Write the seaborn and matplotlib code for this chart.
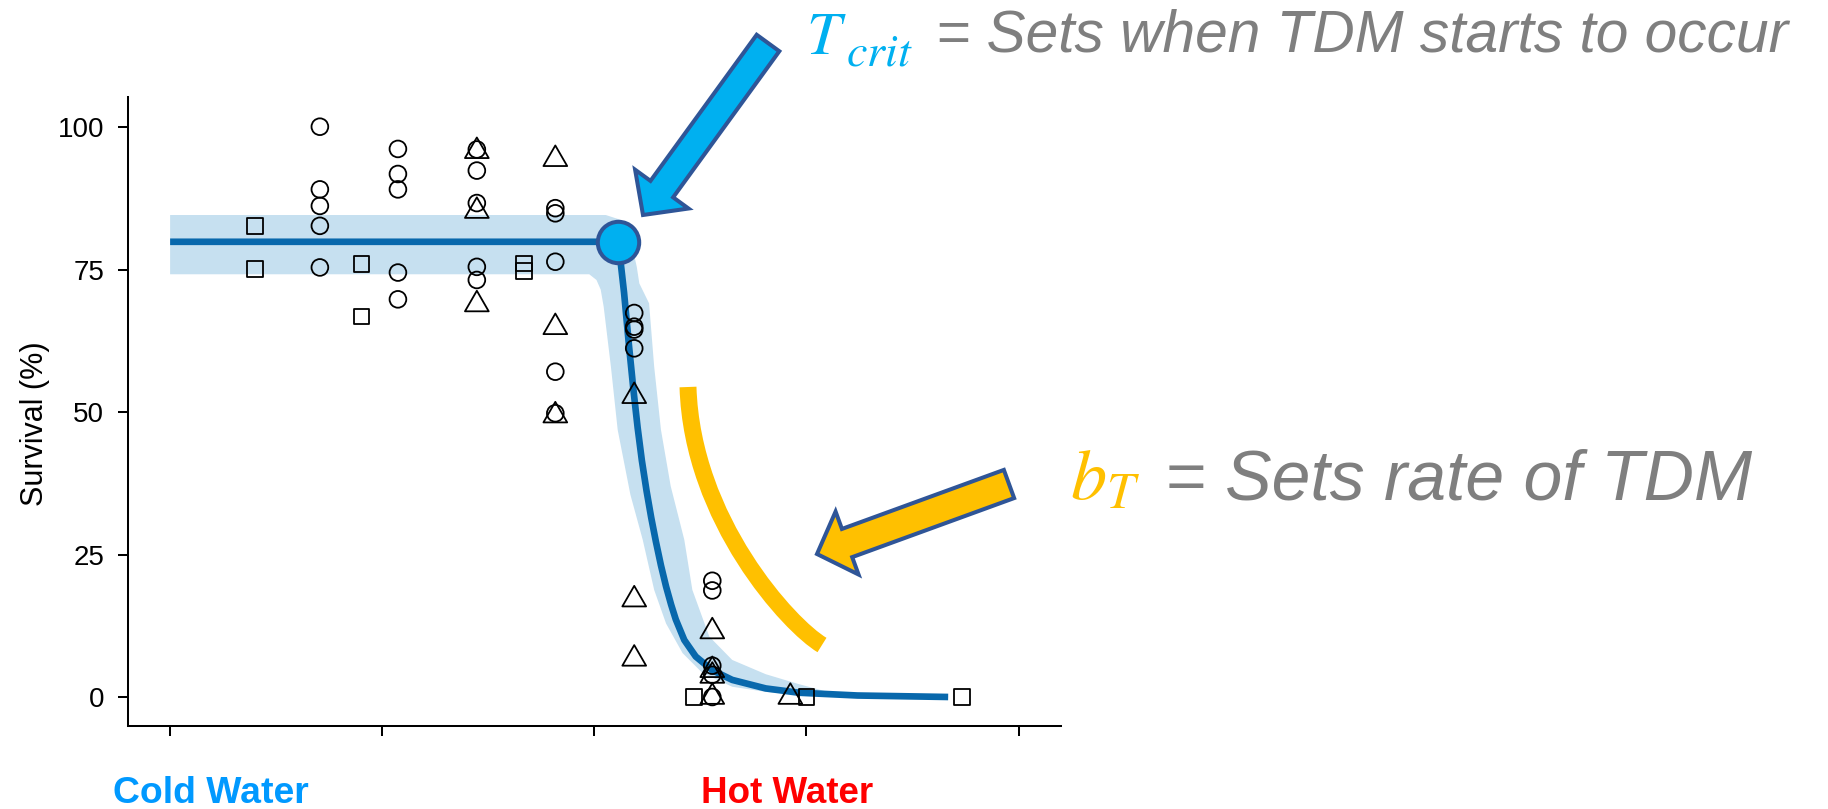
import numpy as np
import pandas as pd
import matplotlib
matplotlib.use("Agg")
import matplotlib.pyplot as plt
import seaborn as sns
from matplotlib.path import Path
from matplotlib.patches import Polygon, PathPatch

# ---------------- data ----------------
circle_temp = [13.53, 13.53, 13.53, 13.53, 13.53,
               15.37, 15.37, 15.37, 15.37, 15.37,
               17.23, 17.23, 17.23, 17.23, 17.23,
               19.08, 19.08, 19.08, 19.08, 19.08,
               20.94, 20.94, 20.94, 20.94,
               22.78, 22.78, 22.78, 22.78, 22.78]
circle_surv = [100.1, 89.1, 86.2, 82.7, 75.4,
               96.2, 91.8, 89.1, 74.5, 69.8,
               96.1, 92.4, 86.7, 75.5, 73.2,
               85.8, 84.9, 76.4, 57.1, 49.8,
               67.4, 65.0, 64.5, 61.2,
               20.4, 18.7, 5.5, 3.9, 0.0]

square_temp = [12.0, 12.0, 14.51, 14.51, 18.34, 18.34, 22.34, 25.0, 28.66]
square_surv = [82.6, 75.1, 76.0, 66.8, 76.1, 74.8, 0.0, 0.0, 0.0]

triangle_temp = [17.23, 17.23, 17.23, 19.08, 19.08, 19.08,
                 20.94, 20.94, 20.94, 22.78, 22.78, 22.78, 22.78, 24.62]
triangle_surv = [95.8, 85.3, 68.9, 94.4, 64.9, 49.4,
                 52.8, 17.1, 6.7, 11.5, 4.7, 3.7, 0.0, 0.0]

curve_temp = [10.0, 20.55, 20.6, 20.7, 20.82, 20.92, 21.02, 21.12, 21.23,
              21.34, 21.45, 21.57, 21.69, 21.81, 21.92, 22.12, 22.39, 22.78,
              23.25, 24.04, 24.82, 26.2, 28.34]
curve_surv = [79.9, 79.9, 77.6, 71.0, 61.4, 54.0, 47.3, 41.5, 36.2,
              31.5, 27.3, 23.1, 19.4, 16.2, 13.6, 10.0, 7.1, 4.7,
              3.0, 1.5, 0.75, 0.26, 0.0]

band_upper_temp = [10.0, 20.27, 20.6, 20.85, 21.0, 21.06, 21.29, 21.41, 21.57,
                   21.8, 22.12, 22.31, 22.71, 23.25, 24.04, 24.8, 25.45, 26.2,
                   27.2, 28.34]
band_upper_surv = [84.6, 84.6, 83.8, 80.5, 75.5, 72.6, 69.1, 58.0, 46.9,
                   37.0, 27.6, 18.8, 10.6, 6.5, 4.0, 2.3, 1.0, 0.5,
                   0.2, 0.1]
band_lower_temp = [10.0, 19.88, 20.05, 20.15, 20.22, 20.39, 20.55, 20.85, 21.14,
                   21.41, 21.69, 22.08, 22.55, 23.25, 24.04, 24.82, 26.2, 28.34]
band_lower_surv = [74.2, 74.2, 73.2, 71.5, 68.5, 58.0, 46.9, 35.5, 27.6,
                   18.8, 12.9, 7.7, 4.2, 1.8, 0.9, 0.4, -0.1, -0.1]

t_crit = 20.55
s_plateau = 79.9

x_ticks = [10, 15, 20, 25, 30]
y_ticks = [0, 25, 50, 75, 100]
y_label = "Survival (%)"
cold_label = "Cold Water"
hot_label = "Hot Water"
tcrit_main = r"$T$"
tcrit_sub = r"$crit$"
tcrit_text = "= Sets when TDM starts to occur"
bt_sym = r"$b_T$"
bt_text = "= Sets rate of TDM"

# ---------------- style ----------------
sns.set_style("ticks")
plt.rcParams["font.family"] = ["Liberation Sans", "DejaVu Sans"]
plt.rcParams["mathtext.fontset"] = "stix"

W, H = 1828, 809
fig = plt.figure(figsize=(W / 100, H / 100), dpi=100)
ax = fig.add_axes([127.7 / W, 1 - 725.7 / H, (1061 - 127.7) / W, (725.7 - 96.8) / H])

LINE = "#0868ac"
BAND = "#c6e0f0"

# confidence band
ax.fill(np.concatenate([band_upper_temp, band_lower_temp[::-1]]),
        np.concatenate([band_upper_surv, band_lower_surv[::-1]]),
        color=BAND, lw=0, zorder=1)

# fitted curve
sns.lineplot(x=curve_temp, y=curve_surv, ax=ax, color=LINE, lw=4.8,
             estimator=None, sort=False, solid_capstyle="butt",
             solid_joinstyle="round", zorder=2)

# points
tri = Path([(0, 1), (-0.866, -0.5), (0.866, -0.5), (0, 1)],
           [Path.MOVETO, Path.LINETO, Path.LINETO, Path.CLOSEPOLY])
df_c = pd.DataFrame({"temp": circle_temp, "surv": circle_surv})
df_s = pd.DataFrame({"temp": square_temp, "surv": square_surv})
df_t = pd.DataFrame({"temp": triangle_temp, "surv": triangle_surv})
common = dict(facecolor="none", edgecolor="black", linewidth=1.3, zorder=3,
              legend=False, clip_on=False)
sns.scatterplot(data=df_c, x="temp", y="surv", marker="o", s=145, ax=ax, **common)
sns.scatterplot(data=df_s, x="temp", y="surv", marker="s", s=130, ax=ax, **common)
sns.scatterplot(data=df_t, x="temp", y="surv", marker=tri, s=390, ax=ax, **common)

# T_crit marker
sns.scatterplot(x=[t_crit], y=[s_plateau], ax=ax, marker="o", s=29.8 ** 2,
                color="#00b0f0", edgecolor="#2f5597", linewidth=2.9,
                zorder=6, legend=False, clip_on=False)

# axes
ax.set_xlim(9.0, 31.0)
ax.set_ylim(-5.04, 105.35)
ax.set_xticks(x_ticks)
ax.set_xticklabels([])
ax.set_yticks(y_ticks)
ax.set_yticklabels([str(v) for v in y_ticks])
ax.set_xlabel("")
ax.set_ylabel(y_label, fontsize=22, color="black")
ax.yaxis.set_label_coords(-0.083, 0.48)
sns.despine(ax=ax)
for sp in ["left", "bottom"]:
    ax.spines[sp].set_linewidth(1.45)
    ax.spines[sp].set_color("black")
ax.tick_params(direction="out", length=7.5, width=1.45, labelsize=20,
               pad=9.5, colors="black")


# ---------------- annotations ----------------
def fx(px):
    return px / W


def fy(py):
    return 1 - py / H


renderer = fig.canvas.get_renderer()


def put_text(x, base, s, target_w=None, **kw):
    t = fig.text(fx(x), fy(base), s, ha="left", va="baseline", **kw)
    if target_w is not None:
        bb = t.get_window_extent(renderer=renderer)
        t.set_fontsize(t.get_fontsize() * target_w / bb.width)
    return t


put_text(113, 803, cold_label, target_w=196, color="#0099ff",
         fontweight="bold", fontsize=27)
put_text(701, 803, hot_label, target_w=172, color="#ff0000",
         fontweight="bold", fontsize=27)
put_text(806, 54, tcrit_main, color="#00b0f0", fontsize=44)
put_text(846, 66, tcrit_sub, target_w=67, color="#00b0f0", fontsize=33)
put_text(936, 52, tcrit_text, target_w=854, color="#7f7f7f",
         fontstyle="italic", fontsize=42)
put_text(1070, 499, bt_sym, color="#ffc000", fontsize=52)
put_text(1165, 499, bt_text, target_w=588, color="#7f7f7f",
         fontstyle="italic", fontsize=52)


def block_arrow(tip, tail, shaft_w, head_w, head_len, fc, ec, lw):
    tip = np.array(tip, float)
    tail = np.array(tail, float)
    u = (tail - tip) / np.linalg.norm(tail - tip)
    n = np.array([-u[1], u[0]])
    b = tip + u * head_len
    pts = [tip, b + n * head_w / 2, b + n * shaft_w / 2, tail + n * shaft_w / 2,
           tail - n * shaft_w / 2, b - n * shaft_w / 2, b - n * head_w / 2]
    pts = [(fx(p[0]), fy(p[1])) for p in pts]
    poly = Polygon(pts, closed=True, transform=fig.transFigure, facecolor=fc,
                   edgecolor=ec, linewidth=lw, joinstyle="miter", zorder=5)
    fig.add_artist(poly)


# yellow arc
arc_pts = [(688, 387), (692, 520), (790, 626), (822, 645)]
arc = PathPatch(Path([(fx(x), fy(y)) for x, y in arc_pts],
                     [Path.MOVETO, Path.CURVE4, Path.CURVE4, Path.CURVE4]),
                transform=fig.transFigure, facecolor="none", edgecolor="#ffc000",
                linewidth=12.2, capstyle="butt", zorder=4)
fig.add_artist(arc)

block_arrow((643, 215), (768, 43), 28, 66, 32, "#00b0f0", "#2f5597", 2.9)
block_arrow((817, 554), (1009, 484), 30, 67, 32, "#ffc000", "#2f5597", 2.9)

fig.savefig("out.png", dpi=100)
